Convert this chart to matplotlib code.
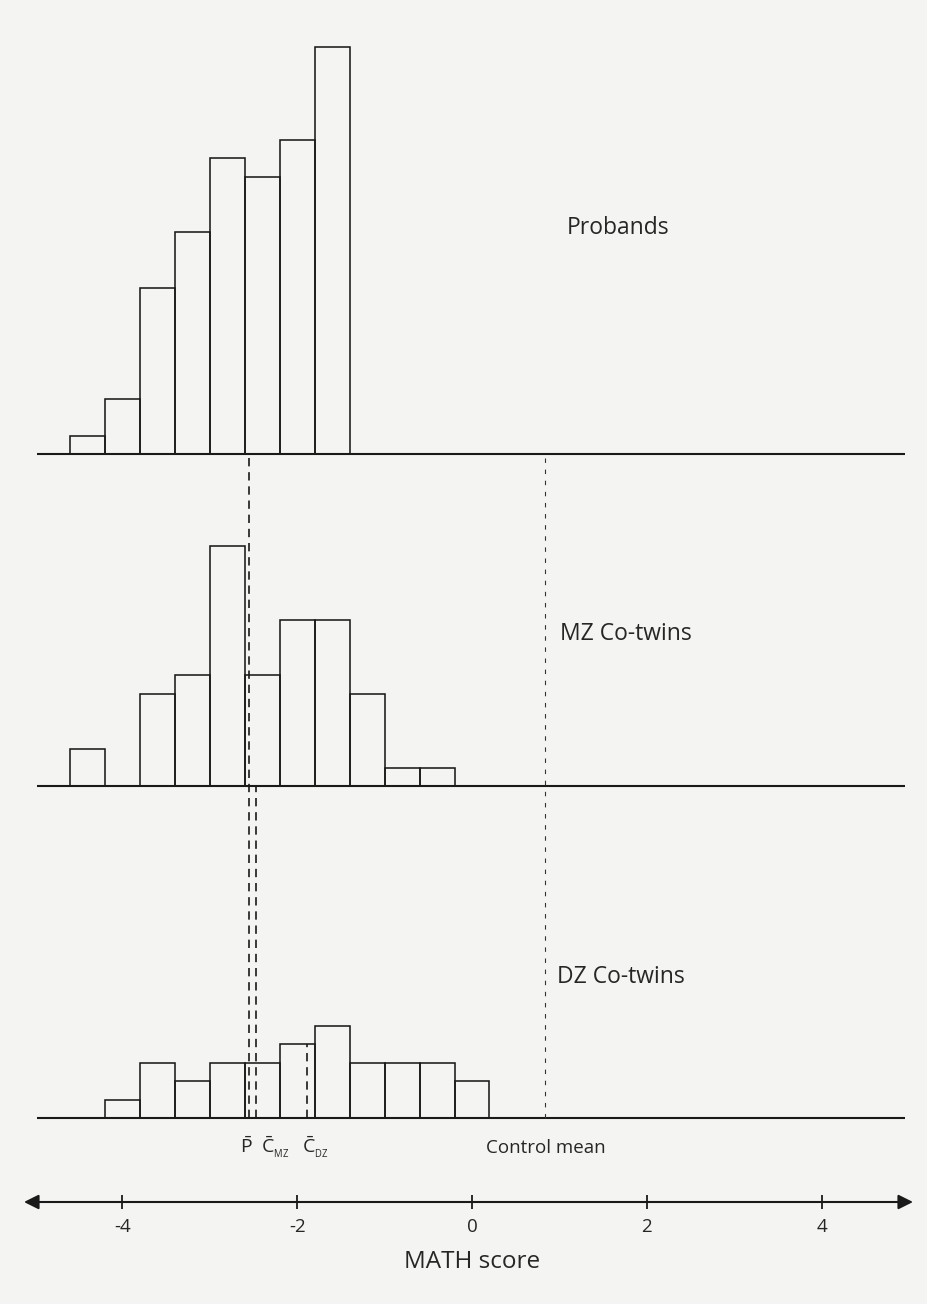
import matplotlib
matplotlib.use('Agg')
import matplotlib.pyplot as plt
import numpy as np

# ---------------- data ----------------
bin_width = 0.4
proband_start = -4.6
proband_counts = [1, 3, 9, 12, 16, 15, 17, 22]
mz_start = -4.6
mz_counts = [2, 0, 5, 6, 13, 6, 9, 9, 5, 1, 1]
dz_start = -4.2
dz_counts = [1, 3, 2, 3, 3, 4, 5, 3, 3, 3, 2]
panel_names = ['Probands', 'MZ Co-twins', 'DZ Co-twins']
mean_p = -2.55
mean_cmz = -2.47
mean_cdz = -1.89
control_mean = 0.84
tick_values = [-4, -2, 0, 2, 4]
xlabel = 'MATH score'

# ---------------- style / layout ----------------
plt.rcParams['font.family'] = ['Open Sans', 'DejaVu Sans']
plt.rcParams['mathtext.fontset'] = 'custom'
plt.rcParams['mathtext.rm'] = 'Open Sans'
plt.rcParams['mathtext.it'] = 'Open Sans'
plt.rcParams['mathtext.sf'] = 'Open Sans'

W, H = 927, 1304
X0, XU = 472.0, 87.4      # pixel of score 0, pixels per score unit
YU = 18.5                  # pixels per count


def X(px):
    return (px - X0) / XU


def Y(py):
    return (H - py) / YU


bg = '#f4f4f2'
ink = '#1a1a1a'
txt = '#262626'
fig = plt.figure(figsize=(W / 100, H / 100), dpi=100, facecolor=bg)
ax = fig.add_axes([0, 0, 1, 1])
ax.set_facecolor(bg)
ax.set_xlim(X(0), X(W))
ax.set_ylim(Y(H), Y(0))
ax.axis('off')

bases = [Y(454), Y(786), Y(1118)]
starts = [proband_start, mz_start, dz_start]
counts_all = [proband_counts, mz_counts, dz_counts]
label_pos = [(567, 228), (560, 634), (557, 977)]

for base, start, counts, name, (lx, ly) in zip(bases, starts, counts_all, panel_names, label_pos):
    edges = start + bin_width * np.arange(len(counts))
    ax.bar(edges, counts, width=bin_width, align='edge', bottom=base,
           facecolor='none', edgecolor=ink, linewidth=1.15, zorder=3)
    ax.hlines(base, X(37), X(905), color=ink, linewidth=1.5, zorder=4)
    ax.text(X(lx), Y(ly), name, fontsize=16.5, color=txt,
            ha='left', va='center')

dash = (0, (5, 3.5))
# proband mean line from probands baseline to DZ baseline
ax.vlines(mean_p, bases[2], bases[0], colors=ink, linestyles=[dash],
          linewidth=1.2, zorder=5)
# MZ co-twin mean from MZ baseline to DZ baseline
ax.vlines(mean_cmz, bases[2], bases[1], colors=ink, linestyles=[dash],
          linewidth=1.2, zorder=5)
# DZ co-twin mean inside its bar
idx = int((mean_cdz - dz_start) // bin_width)
ax.vlines(mean_cdz, bases[2], bases[2] + dz_counts[idx], colors=ink,
          linestyles=[dash], linewidth=1.2, zorder=5)
# control mean
ax.vlines(control_mean, bases[2], bases[0], colors='#333333',
          linestyles=[(0, (4, 6))], linewidth=0.8, zorder=5)

# mean labels
ly = Y(1147)
ax.text(mean_p - 0.03, ly, r'$\mathrm{\bar{P}}$', fontsize=14, ha='center',
        va='center', color=txt)
ax.text(mean_cmz + 0.06, ly, r'$\mathrm{\bar{C}_{_{MZ}}}$', fontsize=14,
        ha='left', va='center', color=txt)
ax.text(mean_cdz - 0.06, ly, r'$\mathrm{\bar{C}_{_{DZ}}}$', fontsize=14,
        ha='left', va='center', color=txt)
ax.text(control_mean, Y(1148), 'Control mean', fontsize=13.5, ha='center',
        va='center', color=txt)

# bottom number line with arrows
ya = Y(1202)
ax.annotate('', xy=(X(24), ya), xytext=(X(913), ya),
            arrowprops=dict(arrowstyle='<|-|>', color=ink, lw=1.5,
                            mutation_scale=22, shrinkA=0, shrinkB=0))
ax.vlines(tick_values, Y(1209), Y(1195), colors=ink, linewidth=1.3)
for t in tick_values:
    ax.text(t, Y(1227), str(t), fontsize=13.5, ha='center', va='center',
            color=txt)
ax.text(0, Y(1262), xlabel, fontsize=17.5, ha='center', va='center',
        color=txt)

fig.savefig('out.png', dpi=100, facecolor=bg)
